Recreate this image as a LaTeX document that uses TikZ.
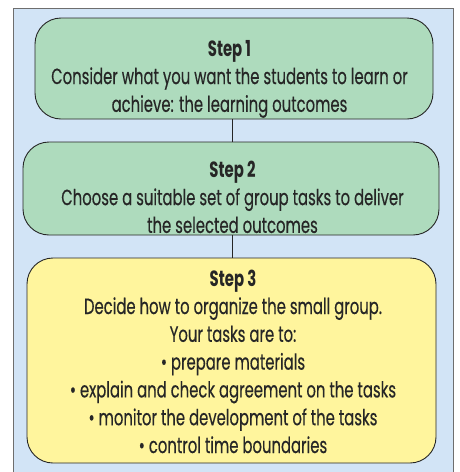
\documentclass[tikz,border=0pt]{standalone}
\usepackage{fontspec}
\setmainfont{Poppins}[FakeStretch=0.675, UprightFeatures={FakeBold=0.35}]
\definecolor{panelblue}{HTML}{D2E4F6}
\definecolor{panelgray}{HTML}{6E6E6E}
\definecolor{stepgreen}{HTML}{AEDBBD}
\definecolor{stepyellow}{HTML}{FFF59D}
\definecolor{inkdark}{HTML}{262626}
\tikzset{
  stepbox/.style={draw=inkdark, line width=0.9pt, rounded corners=26pt, inner sep=0pt},
  steptext/.style={align=center, text=inkdark, inner sep=0pt, font=\fontsize{22}{27.8}\selectfont},
  link/.style={draw=inkdark, line width=0.8pt},
}
\begin{document}
\begin{tikzpicture}[x=1pt,y=-1pt]
\useasboundingbox (0,0) rectangle (459,472);
\fill[white] (0,0) rectangle (459,472);
\draw[fill=panelblue, draw=panelgray, line width=1.4pt] (13.5,8.5) rectangle (453.5,480);
\node[stepbox, fill=stepgreen, minimum width=398pt, minimum height=101pt] (b1) at (234,68.5) {};
\node[stepbox, fill=stepgreen, minimum width=416pt, minimum height=93pt] (b2) at (231,188.5) {};
\node[stepbox, fill=stepyellow, minimum width=409pt, minimum height=205pt] (b3) at (231.5,360.5) {};
\coordinate (cx) at (232,0);
\draw[link] (b1.south -| cx) -- (b2.north -| cx);
\draw[link] (b2.south -| cx) -- (b3.north -| cx);
\node[steptext] (t1) at (229.5,79) {{\bfseries Step 1}\\Consider what you want the students to learn or\\achieve: the learning outcomes};
\node[steptext] (t2) at (232.5,197) {{\bfseries Step 2}\\Choose a suitable set of group tasks to deliver\\the selected outcomes};
\node[steptext] (t3) at (233,361.5) {{\bfseries Step 3}\\Decide how to organize the small group.\\Your tasks are to:\\• prepare materials\\• explain and check agreement on the tasks\\• monitor the development of the tasks\\• control time boundaries};
\end{tikzpicture}
\end{document}
